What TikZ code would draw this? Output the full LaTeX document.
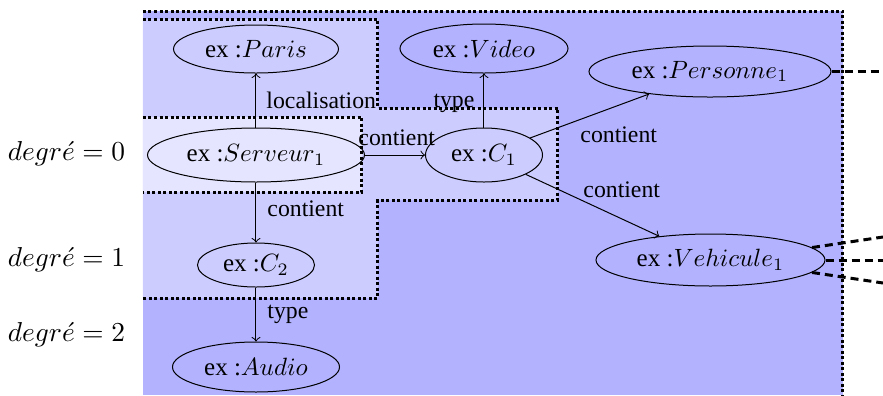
\documentclass[tikz,border=0pt]{standalone}
\usepackage{fontspec}
\setmainfont{Liberation Serif}
\newfontfamily\tmsfont{Liberation Serif}
\usetikzlibrary{shapes.geometric}
\begin{document}
\begin{tikzpicture}[x=0.4pt,y=-0.4pt,
  every node/.style={font=\tmsfont},
  ent/.style={draw, ellipse, inner sep=0pt, line width=0.4pt},
  rel/.style={->, line width=0.4pt},
  lab/.style={inner sep=0pt, anchor=base west, font=\tmsfont\fontsize{9.5}{11}\selectfont},
  deg/.style={inner sep=0pt, anchor=base, font=\fontsize{10.7}{13}\selectfont},
  zoneborder/.style={line width=1.2pt, densely dotted},
  ext/.style={line width=1.2pt, dash pattern=on 3.2pt off 2pt},
]
\useasboundingbox (0,0) rectangle (883,395);
% zones
\fill[blue!30] (143,11) rectangle (843,395);
\fill[blue!20] (143,19) -- (378,19) -- (378,108) -- (558,108) -- (558,200) -- (378,200) -- (378,298) -- (143,298) -- cycle;
\fill[blue!10] (143,117) rectangle (362,192);
\draw[zoneborder] (143,11) -- (843,11) -- (843,395);
\draw[zoneborder] (143,19) -- (378,19) -- (378,108) -- (558,108) -- (558,200) -- (378,200) -- (378,298) -- (143,298);
\draw[zoneborder] (143,117) -- (362,117) -- (362,192) -- (143,192);
% degree labels
\node[deg] (d0) at (66.5,160) {$degr\acute{e} = 0$};
\node[deg] (d1) at (66.5,266) {$degr\acute{e} = 1$};
\node[deg] (d2) at (66.5,341) {$degr\acute{e} = 2$};
% entities
\node[ent, minimum width=66pt, minimum height=19.2pt] (paris) at (256,49) {ex :$Paris$};
\node[ent, minimum width=67.2pt, minimum height=19.6pt] (video) at (484,48.5) {ex :$Video$};
\node[ent, minimum width=96.8pt, minimum height=20.4pt] (pers) at (710,71.5) {ex :$Personne_1$};
\node[ent, minimum width=86.8pt, minimum height=21.6pt] (serv) at (256,155) {ex :$Serveur_1$};
\node[ent, minimum width=46.8pt, minimum height=21.6pt] (c1) at (484,155) {ex :$C_1$};
\node[ent, minimum width=46.8pt, minimum height=17.6pt] (c2) at (256,265) {ex :$C_2$};
\node[ent, minimum width=66.8pt, minimum height=20pt] (audio) at (256,367) {ex :$Audio$};
\node[ent, minimum width=91.6pt, minimum height=20.8pt] (veh) at (710.5,260) {ex :$Vehicule_1$};
% relations
\draw[rel] (serv) -- (paris);
\draw[rel] (c1) -- (video);
\draw[rel] (serv) -- (c1);
\draw[rel] (serv) -- (c2);
\draw[rel] (c2) -- (audio);
\draw[rel] (c1) -- (pers);
\draw[rel] (c1) -- (veh);
% labels
\node[lab] (l1) at (266,108) {localisation};
\node[lab] (l2) at (433,107) {type};
\node[lab] (l3) at (358,145) {contient};
\node[lab] (l4) at (267,216) {contient};
\node[lab] (l5) at (267,318) {type};
\node[lab] (l6) at (580,142) {contient};
\node[lab] (l7) at (583,197) {contient};
% external links
\coordinate (e1) at (883,71.5);
\coordinate (e2) at (883,237);
\coordinate (e3) at (883,260);
\coordinate (e4) at (883,283);
\draw[ext] (pers.east) -- (e1);
\draw[ext] (veh.7.5) -- (e2);
\draw[ext] (veh.east) -- (e3);
\draw[ext] (veh.-7.5) -- (e4);
\end{tikzpicture}
\end{document}
